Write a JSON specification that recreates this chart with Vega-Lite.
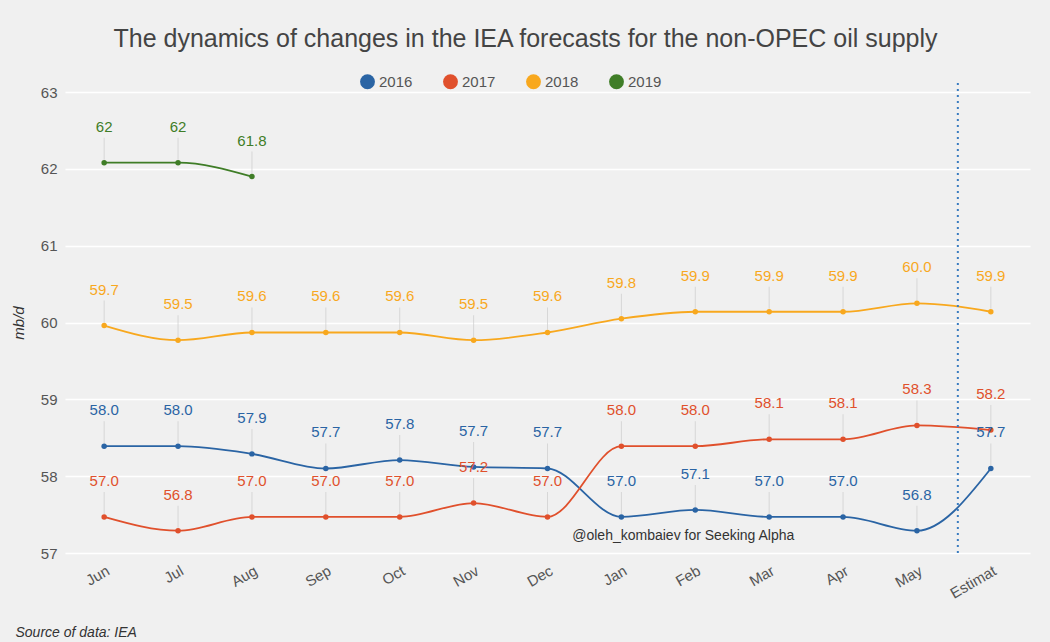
{
  "$schema": "https://vega.github.io/schema/vega-lite/v6.json",
  "autosize": "none",
  "width": 965,
  "height": 461,
  "padding": {"left": 65, "top": 92, "right": 20, "bottom": 89},
  "background": "#f0f0f0",
  "title": {"text": "The dynamics of changes in the IEA forecasts for the non-OPEC oil supply", "fontSize": 25, "font": "Liberation Sans", "fontWeight": "normal", "color": "#444444", "offset": 22, "anchor": "middle", "dx": -22},
  "data": {"values": [
    {"year": "2016", "m": "Jun", "v": 58.39, "t": "58.0"},
    {"year": "2016", "m": "Jul", "v": 58.39, "t": "58.0"},
    {"year": "2016", "m": "Aug", "v": 58.29, "t": "57.9"},
    {"year": "2016", "m": "Sep", "v": 58.1, "t": "57.7"},
    {"year": "2016", "m": "Oct", "v": 58.21, "t": "57.8"},
    {"year": "2016", "m": "Nov", "v": 58.12, "t": "57.7"},
    {"year": "2016", "m": "Dec", "v": 58.1, "t": "57.7"},
    {"year": "2016", "m": "Jan", "v": 57.47, "t": "57.0"},
    {"year": "2016", "m": "Feb", "v": 57.56, "t": "57.1"},
    {"year": "2016", "m": "Mar", "v": 57.47, "t": "57.0"},
    {"year": "2016", "m": "Apr", "v": 57.47, "t": "57.0"},
    {"year": "2016", "m": "May", "v": 57.29, "t": "56.8"},
    {"year": "2016", "m": "Estimat", "v": 58.1, "t": "57.7"},
    {"year": "2017", "m": "Jun", "v": 57.47, "t": "57.0"},
    {"year": "2017", "m": "Jul", "v": 57.29, "t": "56.8"},
    {"year": "2017", "m": "Aug", "v": 57.47, "t": "57.0"},
    {"year": "2017", "m": "Sep", "v": 57.47, "t": "57.0"},
    {"year": "2017", "m": "Oct", "v": 57.47, "t": "57.0"},
    {"year": "2017", "m": "Nov", "v": 57.65, "t": "57.2"},
    {"year": "2017", "m": "Dec", "v": 57.47, "t": "57.0"},
    {"year": "2017", "m": "Jan", "v": 58.39, "t": "58.0"},
    {"year": "2017", "m": "Feb", "v": 58.39, "t": "58.0"},
    {"year": "2017", "m": "Mar", "v": 58.48, "t": "58.1"},
    {"year": "2017", "m": "Apr", "v": 58.48, "t": "58.1"},
    {"year": "2017", "m": "May", "v": 58.66, "t": "58.3"},
    {"year": "2017", "m": "Estimat", "v": 58.6, "t": "58.2"},
    {"year": "2018", "m": "Jun", "v": 59.96, "t": "59.7"},
    {"year": "2018", "m": "Jul", "v": 59.77, "t": "59.5"},
    {"year": "2018", "m": "Aug", "v": 59.87, "t": "59.6"},
    {"year": "2018", "m": "Sep", "v": 59.87, "t": "59.6"},
    {"year": "2018", "m": "Oct", "v": 59.87, "t": "59.6"},
    {"year": "2018", "m": "Nov", "v": 59.77, "t": "59.5"},
    {"year": "2018", "m": "Dec", "v": 59.87, "t": "59.6"},
    {"year": "2018", "m": "Jan", "v": 60.05, "t": "59.8"},
    {"year": "2018", "m": "Feb", "v": 60.14, "t": "59.9"},
    {"year": "2018", "m": "Mar", "v": 60.14, "t": "59.9"},
    {"year": "2018", "m": "Apr", "v": 60.14, "t": "59.9"},
    {"year": "2018", "m": "May", "v": 60.25, "t": "60.0"},
    {"year": "2018", "m": "Estimat", "v": 60.14, "t": "59.9"},
    {"year": "2019", "m": "Jun", "v": 62.08, "t": "62"},
    {"year": "2019", "m": "Jul", "v": 62.08, "t": "62"},
    {"year": "2019", "m": "Aug", "v": 61.9, "t": "61.8"}
  ]},
  "encoding": {
    "x": {"field": "m", "type": "ordinal", "sort": null,
      "scale": {"type": "point", "padding": 0.53},
      "axis": {"labelAngle": -30, "labelFontSize": 15, "labelColor": "#555555", "labelFont": "Liberation Sans", "ticks": false, "domain": false, "grid": false, "labelPadding": 10,
        "title": "Source of data: IEA", "titleAnchor": "start", "titleX": -50, "titleY": 72, "titleFontStyle": "italic", "titleFontWeight": "normal", "titleFontSize": 14, "titleColor": "#333333", "titleFont": "Liberation Sans"}},
    "y": {"field": "v", "type": "quantitative", "scale": {"domain": [57, 63]},
      "axis": {"values": [57, 58, 59, 60, 61, 62, 63], "labelOverlap": false, "labelFontSize": 15, "labelColor": "#555555", "labelFont": "Liberation Sans", "ticks": false, "domain": false, "gridColor": "#ffffff", "gridWidth": 1.5, "labelPadding": 8,
        "title": "mb/d", "titleFontStyle": "italic", "titleFontWeight": "normal", "titleFontSize": 15, "titleColor": "#333333", "titlePadding": 14}},
    "color": {"field": "year", "type": "nominal",
      "scale": {"domain": ["2016", "2017", "2018", "2019"], "range": ["#2a64a4", "#e0502c", "#f8a81e", "#3f7d27"]},
      "legend": {"orient": "none", "legendX": 295, "legendY": -18, "direction": "horizontal", "title": null, "symbolType": "circle", "symbolSize": 220, "symbolStrokeWidth": 0, "labelFontSize": 15, "labelColor": "#555555", "columnPadding": 30}}
  },
  "layer": [
    {"mark": {"type": "tick", "orient": "vertical", "size": 22, "yOffset": -14, "thickness": 1}, "encoding": {"color": {"value": "#cccccc"}}},
    {"mark": {"type": "line", "interpolate": "monotone", "strokeWidth": 1.8}},
    {"mark": {"type": "circle", "size": 30, "opacity": 1}},
    {"mark": {"type": "text", "dy": -36, "fontSize": 15, "font": "Liberation Sans"}, "encoding": {"text": {"field": "t"}}},
    {"transform": [{"filter": "datum.year == '2016' && datum.m == 'Estimat'"}], "mark": {"type": "rule", "strokeDash": [2, 4], "strokeWidth": 2, "xOffset": -33}, "encoding": {"y": {"datum": 57}, "y2": {"datum": 63.15}, "color": {"value": "#3a7cc0"}}},
    {"transform": [{"filter": "datum.year == '2016' && datum.m == 'Feb'"}], "mark": {"type": "text", "fontSize": 14, "font": "Liberation Sans", "dx": -12}, "encoding": {"y": {"datum": 57.22}, "text": {"value": "@oleh_kombaiev for Seeking Alpha"}, "color": {"value": "#333333"}}}
  ],
  "config": {"view": {"stroke": null}}
}
